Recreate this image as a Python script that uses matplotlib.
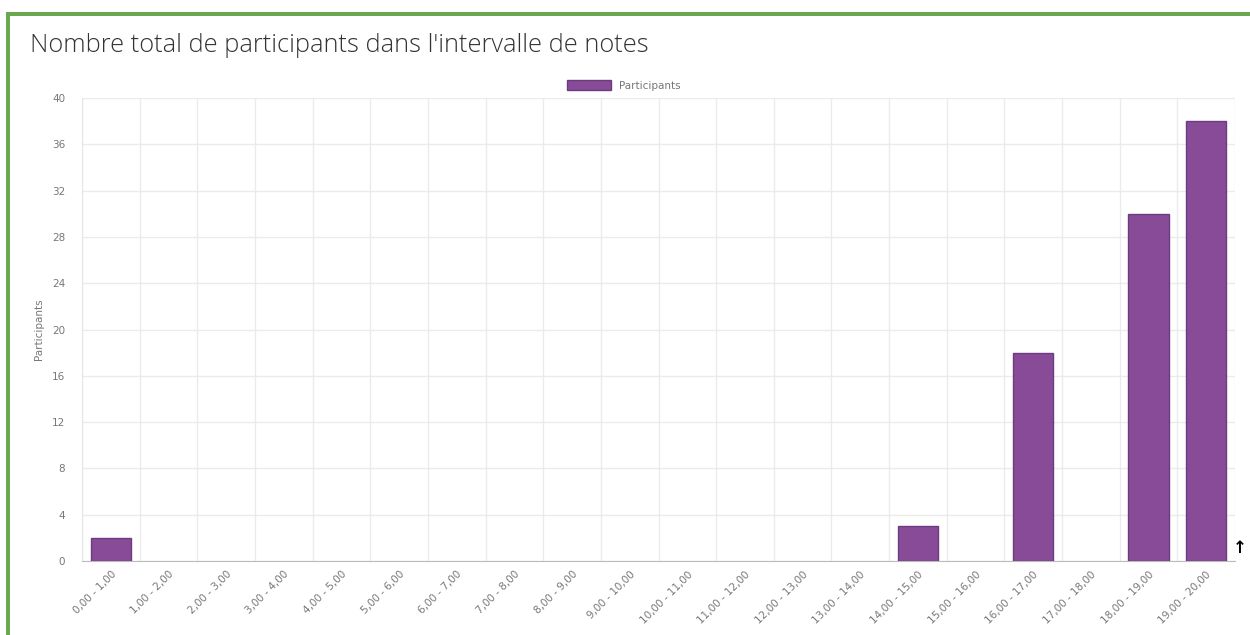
import matplotlib.pyplot as plt
from matplotlib.patches import Rectangle
import numpy as np

# data
categories = ['0,00 - 1,00', '1,00 - 2,00', '2,00 - 3,00', '3,00 - 4,00', '4,00 - 5,00',
              '5,00 - 6,00', '6,00 - 7,00', '7,00 - 8,00', '8,00 - 9,00', '9,00 - 10,00',
              '10,00 - 11,00', '11,00 - 12,00', '12,00 - 13,00', '13,00 - 14,00', '14,00 - 15,00',
              '15,00 - 16,00', '16,00 - 17,00', '17,00 - 18,00', '18,00 - 19,00', '19,00 - 20,00']
participants = [2, 0, 0, 0, 0, 0, 0, 0, 0, 0, 0, 0, 0, 0, 3, 0, 18, 0, 30, 38]
y_ticks = [0, 4, 8, 12, 16, 20, 24, 28, 32, 36, 40]

W, H = 1250, 635
fig = plt.figure(figsize=(W / 100, H / 100), dpi=100)
fig.patch.set_facecolor('white')

# green frame
green = '#6aa84f'
fig.add_artist(Rectangle((6 / W, 0), 4 / W, 1 - 12 / H, transform=fig.transFigure,
                         color=green, lw=0))
fig.add_artist(Rectangle((6 / W, 1 - 16 / H), 1, 4 / H, transform=fig.transFigure,
                         color=green, lw=0))

ax = fig.add_axes([82 / W, 1 - 561 / H, (1235 - 82) / W, (561 - 98) / H])
x = np.arange(len(categories))
bars = ax.bar(x, participants, width=0.7, color='#874b98', edgecolor='#6e3a80',
              linewidth=1, label='Participants', zorder=3)
for b, v in zip(bars, participants):
    if v == 0:
        b.set_linewidth(0)

ax.set_xlim(-0.5, len(categories) - 0.5)
ax.set_ylim(0, 40)
ax.set_yticks(y_ticks)
ax.set_yticklabels([str(v) for v in y_ticks], fontsize=7.5, color='#777777')
ax.set_xticks(x)
ax.set_xticklabels(categories, rotation=45, ha='right', rotation_mode='anchor',
                   fontsize=7.5, color='#777777')
ax.tick_params(axis='x', length=0, pad=6)
ax.tick_params(axis='y', length=0, pad=12)

# gridlines between categories and at y ticks
ax.set_xticks(np.arange(len(categories) + 1) - 0.5, minor=True)
ax.grid(which='minor', axis='x', color='#ebebeb', lw=1, zorder=0)
ax.grid(which='major', axis='y', color='#ebebeb', lw=1, zorder=0)
ax.tick_params(which='minor', length=0)

for s in ['top', 'right']:
    ax.spines[s].set_visible(False)
ax.spines['left'].set_color('#e6e6e6')
ax.spines['bottom'].set_color('#bbbbbb')

ax.set_ylabel('Participants', fontsize=7.5, color='#777777', labelpad=6)

ax.legend(loc='lower center', bbox_to_anchor=(0.47, 1.0), frameon=False,
          fontsize=7.5, labelcolor='#777777', handlelength=4.2, handleheight=1.1,
          borderaxespad=0.3)

fig.text(30 / W, 1 - 45 / H, "Nombre total de participants dans l'intervalle de notes",
         fontsize=18.3, color='#333333', family=['Open Sans', 'DejaVu Sans'],
         fontweight='light', va='center', ha='left')

fig.text(1240 / W, 1 - 548 / H, '\u2191', fontsize=12, fontweight='bold',
         color='black', ha='center', va='center')

plt.savefig('out.png', dpi=100)
